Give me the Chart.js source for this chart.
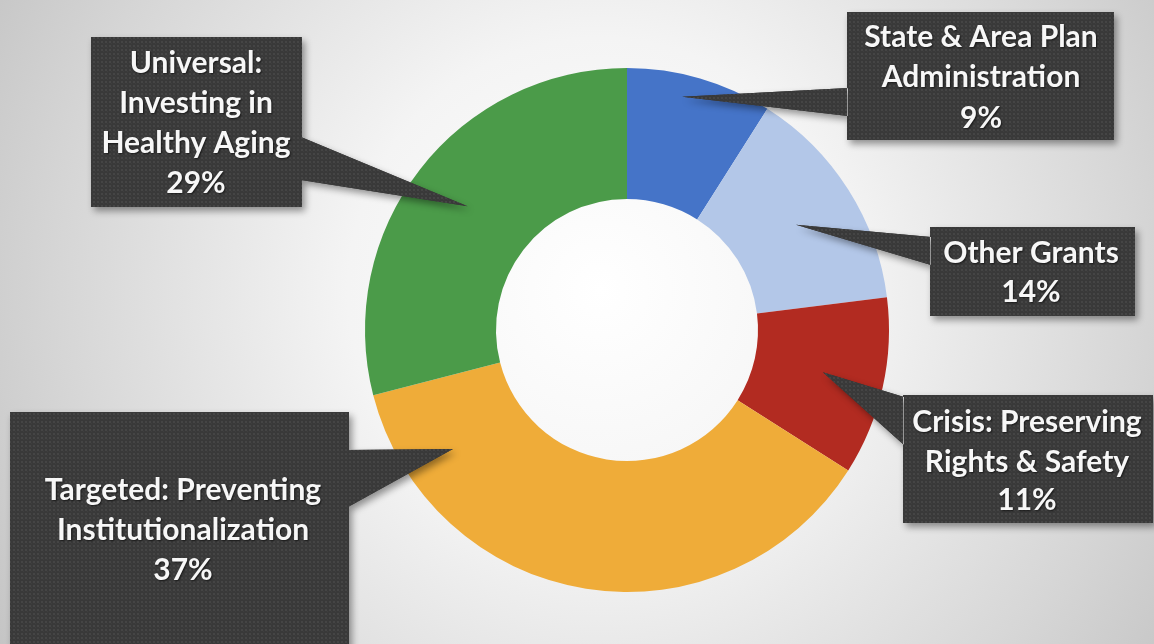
<!DOCTYPE html>
<html>
<head>
<meta charset="utf-8">
<script src="https://cdn.jsdelivr.net/npm/chart.js@4/dist/chart.umd.min.js"></script>
<style>
html,body{margin:0;padding:0;background:#e6e6e6;overflow:hidden;}
canvas{display:block;}
</style>
</head>
<body>
<canvas id="c" width="1154" height="644"></canvas>
<script>
// ---- data ----
const categories = [
  "State & Area Plan Administration",
  "Other Grants",
  "Crisis: Preserving Rights & Safety",
  "Targeted: Preventing Institutionalization",
  "Universal: Investing in Healthy Aging"
];
const values = [9, 14, 11, 37, 29];
const labelLines = [
  ["State & Area Plan", "Administration"],
  ["Other Grants"],
  ["Crisis: Preserving", "Rights & Safety"],
  ["Targeted: Preventing", "Institutionalization"],
  ["Universal:", "Investing in", "Healthy Aging"]
];
const colors = ["#4574c8", "#b3c7e8", "#b22b21", "#efac39", "#4b9b49"];

// ---- callout layout (positions/styles only) ----
const callouts = [
  {box:[847,12,267,128], base:[[848,88],[848,116]], tipA:0.41, tipR:0.83, lines:[47,87,128], cx:981},
  {box:[930,227,205,89], base:[[931,237],[931,265]], tipA:0.51, tipR:0.52, lines:[263,302], cx:1031},
  {box:[903,395,250,128], base:[[904,397],[904,445]], tipA:0.49, tipR:0.53, lines:[432,472,510], cx:1027},
  {box:[10,412,339,240], base:[[348,450],[348,507]], tipA:0.85, tipR:0.61, lines:[500,540,580], cx:183},
  {box:[91,37,211,170], base:[[301,137],[301,180]], tipA:0.50, tipR:0.54, lines:[73,113,153,193], cx:196}
];

function makePattern(ctx){
  const p = document.createElement('canvas');
  p.width = 4; p.height = 4;
  const g = p.getContext('2d');
  g.fillStyle = '#393939';
  g.fillRect(0,0,4,4);
  g.fillStyle = '#454545';
  g.fillRect(1,1,2,2);
  g.fillStyle = '#3e3e3e';
  g.fillRect(3,3,1,1);
  return ctx.createPattern(p, 'repeat');
}

const bgPlugin = {
  id: 'bg',
  beforeDraw(chart){
    const ctx = chart.ctx;
    const w = chart.width, h = chart.height;
    ctx.save();
    const g = ctx.createRadialGradient(600, 290, 0, 600, 290, 720);
    g.addColorStop(0, '#ffffff');
    g.addColorStop(0.35, '#f4f4f4');
    g.addColorStop(0.75, '#d6d6d6');
    g.addColorStop(1, '#c2c2c2');
    ctx.fillStyle = g;
    ctx.fillRect(0,0,w,h);
    ctx.restore();
  }
};

const calloutPlugin = {
  id: 'callouts',
  afterDraw(chart){
    const ctx = chart.ctx;
    const meta = chart.getDatasetMeta(0);
    const pat = makePattern(ctx);
    const shapes = callouts.map((c, i) => {
      const arc = meta.data[i];
      const p = arc.getProps(['x','y','startAngle','endAngle','innerRadius','outerRadius'], true);
      const a = p.startAngle + (p.endAngle - p.startAngle) * c.tipA;
      const r = p.innerRadius + (p.outerRadius - p.innerRadius) * c.tipR;
      const tip = [p.x + Math.cos(a) * r, p.y + Math.sin(a) * r];
      return {c, tip};
    });
    function path(s){
      const [x,y,w,h] = s.c.box;
      ctx.beginPath();
      ctx.rect(x,y,w,h);
      ctx.moveTo(s.c.base[0][0], s.c.base[0][1]);
      ctx.lineTo(s.tip[0], s.tip[1]);
      ctx.lineTo(s.c.base[1][0], s.c.base[1][1]);
      ctx.closePath();
    }
    ctx.save();
    shapes.forEach(s => {
      ctx.save();
      ctx.shadowColor = 'rgba(0,0,0,0.4)';
      ctx.shadowBlur = 7;
      ctx.shadowOffsetX = 3;
      ctx.shadowOffsetY = 4;
      ctx.fillStyle = '#3a3a3a';
      path(s);
      ctx.fill('nonzero');
      ctx.restore();
    });
    shapes.forEach(s => {
      ctx.fillStyle = pat;
      path(s);
      ctx.fill('nonzero');
    });
    ctx.font = 'bold 30px Lato, "Open Sans", sans-serif';
    ctx.textAlign = 'center';
    ctx.textBaseline = 'alphabetic';
    shapes.forEach((s, i) => {
      const lines = labelLines[i].concat([values[i] + '%']);
      lines.forEach((t, k) => {
        ctx.save();
        ctx.shadowColor = 'rgba(0,0,0,0.6)';
        ctx.shadowBlur = 2;
        ctx.shadowOffsetX = 1;
        ctx.shadowOffsetY = 1;
        ctx.fillStyle = '#f7f7f7';
        ctx.fillText(t, s.c.cx, s.c.lines[k]);
        ctx.restore();
      });
    });
    ctx.restore();
  }
};

new Chart(document.getElementById('c'), {
  type: 'doughnut',
  data: {
    labels: categories,
    datasets: [{
      data: values,
      backgroundColor: colors,
      borderWidth: 0
    }]
  },
  options: {
    responsive: false,
    animation: false,
    cutout: '50%',
    layout: { padding: { left: 365, right: 265, top: 68, bottom: 52 } },
    plugins: { legend: { display: false }, tooltip: { enabled: false } }
  },
  plugins: [bgPlugin, calloutPlugin]
});
</script>
</body>
</html>
